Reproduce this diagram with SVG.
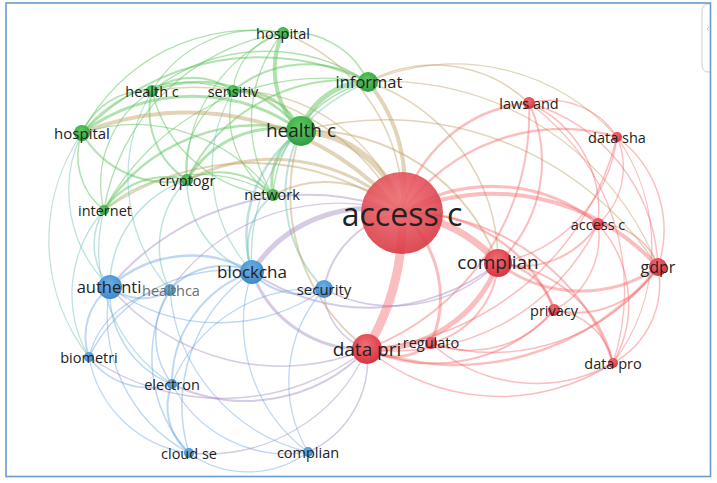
<svg xmlns="http://www.w3.org/2000/svg" width="717" height="483" viewBox="0 0 717 483">
<style>
.e path{fill:none;stroke-width:1.3;stroke-linecap:round}
.g{stroke:rgba(90,195,90,0.48)}
.b{stroke:rgba(100,160,225,0.42)}
.r{stroke:rgba(245,100,100,0.42)}
.gr{stroke:rgba(190,160,100,0.45)}
.br{stroke:rgba(165,140,195,0.45)}
.gb{stroke:rgba(110,190,185,0.45)}
text{font-family:"Open Sans","Noto Sans","DejaVu Sans",sans-serif;fill:#222;text-anchor:middle;dominant-baseline:central}
.nr{fill:url(#gR)}
.ng{fill:url(#gG)}
.nb{fill:url(#gB)}
</style>
<defs>
<radialGradient id="gR" cx="45%" cy="35%" r="65%"><stop offset="0" stop-color="#f06c73"/><stop offset="1" stop-color="#d8343f"/></radialGradient>
<radialGradient id="gG" cx="45%" cy="35%" r="65%"><stop offset="0" stop-color="#5fc95f"/><stop offset="1" stop-color="#2d9f42"/></radialGradient>
<radialGradient id="gB" cx="45%" cy="35%" r="65%"><stop offset="0" stop-color="#6cb0e6"/><stop offset="1" stop-color="#3f88c8"/></radialGradient>
</defs>
<rect x="0" y="0" width="717" height="483" fill="#fff"/>
<path d="M711 4 H708 Q702 4 702 12 V64 Q702 72 708 72 H711" fill="none" stroke="#cfcfcf" stroke-width="1"/>
<path d="M709 27 L707 29 L709 31" fill="none" stroke="#bbb" stroke-width="0.8"/>
<g id="connectors" class="e">
<path class="g" style="stroke-width:4" d="M283 33 A85 85 0 0 0 301 131"/>
<path class="g" d="M283 33 A122 122 0 0 0 152 91"/>
<path class="g" d="M283 33 A65 65 0 0 0 233 91"/>
<path class="g" style="stroke-width:1.6" d="M283 33 A83 83 0 0 1 368 82"/>
<path class="g" d="M283 33 A190 190 0 0 0 82 133"/>
<path class="g" d="M283 33 A150 150 0 0 0 187 180"/>
<path class="g" d="M283 33 A138 138 0 0 0 273 195"/>
<path class="g" d="M283 33 A214 214 0 0 0 104 210"/>
<path class="g" style="stroke-width:2" d="M152 91 A69 69 0 0 1 233 91"/>
<path class="g" style="stroke-width:2.5" d="M152 91 A131 131 0 0 1 301 131"/>
<path class="g" style="stroke-width:1.5" d="M152 91 A70 70 0 0 0 82 133"/>
<path class="g" style="stroke-width:2" d="M152 91 A82 82 0 0 0 187 180"/>
<path class="g" d="M152 91 A136 136 0 0 0 273 195"/>
<path class="g" d="M152 91 A109 109 0 0 0 104 210"/>
<path class="g" style="stroke-width:1.6" d="M152 91 A184 184 0 0 1 368 82"/>
<path class="g" style="stroke-width:3" d="M233 91 A67 67 0 0 1 301 131"/>
<path class="g" style="stroke-width:2" d="M233 91 A115 115 0 0 1 368 82"/>
<path class="g" d="M233 91 A85 85 0 0 0 187 180"/>
<path class="g" d="M233 91 A95 95 0 0 0 273 195"/>
<path class="g" d="M233 91 A133 133 0 0 0 82 133"/>
<path class="g" style="stroke-width:5" d="M368 82 A70 70 0 0 0 301 131"/>
<path class="g" style="stroke-width:2" d="M368 82 A175 175 0 0 0 187 180"/>
<path class="g" d="M368 82 A126 126 0 0 0 273 195"/>
<path class="g" style="stroke-width:2" d="M368 82 A247 247 0 0 0 82 133"/>
<path class="g" style="stroke-width:3" d="M82 133 A186 186 0 0 1 301 131"/>
<path class="g" style="stroke-width:2" d="M82 133 A98 98 0 0 0 187 180"/>
<path class="g" style="stroke-width:1.5" d="M82 133 A68 68 0 0 0 104 210"/>
<path class="g" d="M82 133 A171 171 0 0 1 273 195"/>
<path class="g" style="stroke-width:3" d="M301 131 A105 105 0 0 0 187 180"/>
<path class="g" style="stroke-width:3" d="M301 131 A60 60 0 0 0 273 195"/>
<path class="g" style="stroke-width:2.5" d="M301 131 A180 180 0 0 0 104 210"/>
<path class="g" style="stroke-width:2" d="M187 180 A74 74 0 0 1 273 195"/>
<path class="g" style="stroke-width:2" d="M187 180 A75 75 0 0 0 104 210"/>
<path class="g" d="M273 195 A144 144 0 0 0 104 210"/>
<path class="g" d="M104 210 A249 249 0 0 1 368 82"/>

<path class="b" style="stroke-width:2" d="M110 287 A51 51 0 0 0 170 290"/>
<path class="b" style="stroke-width:2.5" d="M110 287 A121 121 0 0 1 252 272"/>
<path class="b" style="stroke-width:1.5" d="M110 287 A182 182 0 0 0 324 289"/>
<path class="b" style="stroke-width:2" d="M110 287 A62 62 0 0 0 89 357"/>
<path class="b" style="stroke-width:1.5" d="M110 287 A98 98 0 0 0 172 384"/>
<path class="b" d="M110 287 A156 156 0 0 0 189 453"/>
<path class="b" style="stroke-width:2" d="M170 290 A71 71 0 0 1 252 272"/>
<path class="b" d="M170 290 A89 89 0 0 0 89 357"/>
<path class="b" style="stroke-width:1.5" d="M170 290 A80 80 0 0 0 172 384"/>
<path class="b" style="stroke-width:1.5" d="M170 290 A139 139 0 0 0 189 453"/>
<path class="b" d="M170 290 A181 181 0 0 0 308 452"/>
<path class="b" style="stroke-width:2" d="M252 272 A63 63 0 0 0 324 289"/>
<path class="b" style="stroke-width:1.5" d="M252 272 A156 156 0 0 0 89 357"/>
<path class="b" style="stroke-width:2" d="M252 272 A117 117 0 0 0 172 384"/>
<path class="b" style="stroke-width:1.5" d="M252 272 A163 163 0 0 0 189 453"/>
<path class="b" d="M252 272 A160 160 0 0 0 308 452"/>
<path class="b" d="M324 289 A152 152 0 0 0 172 384"/>
<path class="b" d="M324 289 A139 139 0 0 0 308 452"/>
<path class="b" style="stroke-width:1.5" d="M89 357 A74 74 0 0 0 172 384"/>
<path class="b" style="stroke-width:2" d="M172 384 A60 60 0 0 0 189 453"/>
<path class="b" d="M172 384 A129 129 0 0 0 308 452"/>
<path class="b" d="M189 453 A101 101 0 0 0 308 452"/>
<path class="b" d="M89 357 A118 118 0 0 0 189 453"/>

<path class="gb" style="stroke-width:2.5" d="M301 131 A127 127 0 0 0 252 272"/>
<path class="gb" style="stroke-width:1.5" d="M187 180 A112 112 0 0 0 110 287"/>
<path class="gb" style="stroke-width:1.5" d="M187 180 A94 94 0 0 0 170 290"/>
<path class="gb" style="stroke-width:1.5" d="M104 210 A65 65 0 0 0 110 287"/>
<path class="gb" style="stroke-width:2" d="M273 195 A68 68 0 0 0 252 272"/>
<path class="gb" style="stroke-width:2" d="M301 131 A136 136 0 0 0 324 289"/>
<path class="gb" d="M104 210 A159 159 0 0 0 172 384"/>
<path class="gb" d="M82 133 A133 133 0 0 0 110 287"/>
<path class="gb" style="stroke-width:1.5" d="M187 180 A96 96 0 0 0 252 272"/>
<path class="gb" d="M152 91 A170 170 0 0 0 170 290"/>
<path class="gb" style="stroke-width:1.5" d="M368 82 A190 190 0 0 0 252 272"/>
<path class="gb" d="M233 91 A155 155 0 0 0 252 272"/>
<path class="gb" d="M82 133 A190 190 0 0 0 89 357"/>
<path class="gb" d="M104 210 A126 126 0 0 0 89 357"/>

<path class="br" style="stroke-width:5" d="M252 272 A137 137 0 0 1 402 213"/>
<path class="br" style="stroke-width:3" d="M252 272 A117 117 0 0 0 367 349"/>
<path class="br" style="stroke-width:2" d="M324 289 A93 93 0 0 1 402 213"/>
<path class="br" style="stroke-width:1.5" d="M324 289 A63 63 0 0 0 367 349"/>
<path class="br" style="stroke-width:2" d="M110 287 A256 256 0 0 1 402 213"/>
<path class="br" style="stroke-width:1.5" d="M89 357 A236 236 0 0 0 367 349"/>
<path class="br" style="stroke-width:2" d="M172 384 A168 168 0 0 0 367 349"/>
<path class="br" style="stroke-width:2" d="M252 272 A209 209 0 0 0 498 263"/>
<path class="br" style="stroke-width:1.5" d="M324 289 A150 150 0 0 0 498 263"/>
<path class="br" d="M170 290 A207 207 0 0 1 402 213"/>
<path class="br" style="stroke-width:1.5" d="M308 452 A101 101 0 0 0 367 349"/>
<path class="br" style="stroke-width:1.5" d="M110 287 A224 224 0 0 0 367 349"/>
<path class="br" d="M189 453 A175 175 0 0 0 367 349"/>

<path class="gr" style="stroke-width:6" d="M301 131 A111 111 0 0 1 402 213"/>
<path class="gr" style="stroke-width:4" d="M368 82 A160 160 0 0 1 402 213"/>
<path class="gr" style="stroke-width:4" d="M82 133 A280 280 0 0 1 402 213"/>
<path class="gr" style="stroke-width:3" d="M187 180 A185 185 0 0 1 402 213"/>
<path class="gr" style="stroke-width:2" d="M273 195 A111 111 0 0 1 402 213"/>
<path class="gr" style="stroke-width:2" d="M301 131 A194 194 0 0 0 367 349"/>
<path class="gr" style="stroke-width:2" d="M301 131 A201 201 0 0 1 498 263"/>
<path class="gr" style="stroke-width:1.5" d="M368 82 A138 138 0 0 1 529 103"/>
<path class="gr" style="stroke-width:1.5" d="M368 82 A190 190 0 0 1 498 263"/>
<path class="gr" style="stroke-width:1.5" d="M283 33 A184 184 0 0 1 402 213"/>
<path class="gr" style="stroke-width:1.5" d="M152 91 A236 236 0 0 1 402 213"/>
<path class="gr" style="stroke-width:1.5" d="M233 91 A177 177 0 0 1 402 213"/>
<path class="gr" d="M368 82 A292 292 0 0 1 658 267"/>
<path class="gr" style="stroke-width:1.5" d="M301 131 A325 325 0 0 1 658 267"/>
<path class="gr" style="stroke-width:2" d="M104 210 A253 253 0 0 1 402 213"/>
<path class="gr" d="M368 82 A217 217 0 0 1 617 137"/>

<path class="r" style="stroke-width:9" d="M402 213 A250 250 0 0 1 367 349"/>
<path class="r" style="stroke-width:7" d="M402 213 A150 150 0 0 1 498 263"/>
<path class="r" style="stroke-width:4" d="M402 213 A223 223 0 0 1 658 267"/>
<path class="r" style="stroke-width:3" d="M402 213 A167 167 0 0 1 598 224"/>
<path class="r" style="stroke-width:2.5" d="M402 213 A143 143 0 0 1 529 103"/>
<path class="r" style="stroke-width:2.5" d="M402 213 A194 194 0 0 1 617 137"/>
<path class="r" style="stroke-width:2.5" d="M402 213 A153 153 0 0 1 554 310"/>
<path class="r" style="stroke-width:3" d="M402 213 A113 113 0 0 1 431 343"/>
<path class="r" style="stroke-width:2" d="M402 213 A220 220 0 0 1 613 363"/>
<path class="r" style="stroke-width:5" d="M498 263 A133 133 0 0 1 367 349"/>
<path class="r" style="stroke-width:3" d="M498 263 A136 136 0 0 0 658 267"/>
<path class="r" style="stroke-width:2.5" d="M498 263 A62 62 0 0 1 554 310"/>
<path class="r" style="stroke-width:2" d="M498 263 A129 129 0 0 1 613 363"/>
<path class="r" style="stroke-width:2" d="M498 263 A89 89 0 0 1 431 343"/>
<path class="r" style="stroke-width:2" d="M498 263 A139 139 0 0 0 529 103"/>
<path class="r" style="stroke-width:1.5" d="M498 263 A147 147 0 0 0 617 137"/>
<path class="r" style="stroke-width:2" d="M498 263 A91 91 0 0 0 598 224"/>
<path class="r" style="stroke-width:1.5" d="M658 267 A178 178 0 0 0 529 103"/>
<path class="r" style="stroke-width:1.5" d="M658 267 A116 116 0 0 0 617 137"/>
<path class="r" style="stroke-width:2" d="M658 267 A96 96 0 0 1 554 310"/>
<path class="r" style="stroke-width:1.5" d="M658 267 A90 90 0 0 1 613 363"/>
<path class="r" style="stroke-width:2.5" d="M658 267 A257 257 0 0 1 367 349"/>
<path class="r" style="stroke-width:1.5" d="M658 267 A63 63 0 0 0 598 224"/>
<path class="r" style="stroke-width:3" d="M367 349 A54 54 0 0 0 431 343"/>
<path class="r" style="stroke-width:2" d="M367 349 A162 162 0 0 0 554 310"/>
<path class="r" style="stroke-width:1.5" d="M367 349 A209 209 0 0 0 613 363"/>
<path class="r" style="stroke-width:2" d="M367 349 A251 251 0 0 0 529 103"/>
<path class="r" style="stroke-width:1.5" d="M367 349 A279 279 0 0 0 617 137"/>
<path class="r" style="stroke-width:1.5" d="M367 349 A224 224 0 0 0 598 224"/>
<path class="r" style="stroke-width:1.5" d="M431 343 A108 108 0 0 0 554 310"/>
<path class="r" style="stroke-width:1.5" d="M431 343 A156 156 0 0 0 613 363"/>
<path class="r" style="stroke-width:1.5" d="M431 343 A203 203 0 0 0 658 267"/>
<path class="r" style="stroke-width:1.5" d="M529 103 A80 80 0 0 1 617 137"/>
<path class="r" style="stroke-width:1.5" d="M529 103 A118 118 0 0 1 598 224"/>
<path class="r" d="M529 103 A232 232 0 0 1 613 363"/>
<path class="r" d="M617 137 A76 76 0 0 1 598 224"/>
<path class="r" d="M617 137 A192 192 0 0 1 613 363"/>
<path class="r" style="stroke-width:1.5" d="M598 224 A82 82 0 0 1 554 310"/>
<path class="r" style="stroke-width:1.5" d="M598 224 A119 119 0 0 1 613 363"/>
<path class="r" style="stroke-width:1.5" d="M554 310 A67 67 0 0 1 613 363"/>
</g>

<g id="n-access-c"><circle class="nr" cx="402" cy="213" r="41" opacity="0.88"/><text x="402" y="213" style="font-size:32px">access c</text></g>
<g id="n-health-c-big"><circle class="ng" cx="301" cy="131" r="15"/><text x="301" y="130" style="font-size:19px">health c</text></g>
<g id="n-complian-red"><circle class="nr" cx="498" cy="263" r="14"/><text x="498" y="262" style="font-size:19px">complian</text></g>
<g id="n-data-pri"><circle class="nr" cx="367" cy="349" r="15"/><text x="367" y="349" style="font-size:19px">data pri</text></g>
<g id="n-blockcha"><circle class="nb" cx="252" cy="272" r="12"/><text x="252" y="271" style="font-size:17px">blockcha</text></g>
<g id="n-authenti"><circle class="nb" cx="110" cy="287" r="12"/><text x="109" y="286" style="font-size:16.5px">authenti</text></g>
<g id="n-informat"><circle class="ng" cx="368" cy="82" r="10"/><text x="369" y="81" style="font-size:16.5px">informat</text></g>
<g id="n-gdpr"><circle class="nr" cx="658" cy="267" r="9"/><text x="658" y="267" style="font-size:16px">gdpr</text></g>
<g id="n-security"><circle class="nb" cx="324" cy="289" r="9"/><text x="324" y="289" style="font-size:15px">security</text></g>
<g id="n-hospital-top"><circle class="ng" cx="283" cy="33" r="6"/><text x="283" y="33" style="font-size:14.5px">hospital</text></g>
<g id="n-health-c-small"><circle class="ng" cx="152" cy="91" r="6"/><text x="152" y="91" style="font-size:14.5px">health c</text></g>
<g id="n-sensitiv"><circle class="ng" cx="233" cy="91" r="6"/><text x="233" y="91" style="font-size:14.5px">sensitiv</text></g>
<g id="n-hospital-left"><circle class="ng" cx="82" cy="133" r="8"/><text x="82" y="133" style="font-size:15px">hospital</text></g>
<g id="n-cryptogr"><circle class="ng" cx="187" cy="180" r="6"/><text x="187" y="180" style="font-size:14.5px">cryptogr</text></g>
<g id="n-network"><circle class="ng" cx="273" cy="195" r="6"/><text x="272" y="194" style="font-size:14.5px">network</text></g>
<g id="n-internet"><circle class="ng" cx="104" cy="210" r="5"/><text x="105" y="210" style="font-size:14.5px">internet</text></g>
<g id="n-healthca"><circle class="nb" cx="170" cy="290" r="6"/><text x="171" y="290" style="font-size:14.5px;fill:#6e6e6e">healthca</text></g>
<g id="n-biometri"><circle class="nb" cx="89" cy="357" r="5"/><text x="89" y="357" style="font-size:14.5px">biometri</text></g>
<g id="n-electron"><circle class="nb" cx="172" cy="384" r="5"/><text x="172" y="384" style="font-size:14.5px">electron</text></g>
<g id="n-cloud-se"><circle class="nb" cx="189" cy="453" r="5"/><text x="189" y="453" style="font-size:14.5px">cloud se</text></g>
<g id="n-complian-blue"><circle class="nb" cx="308" cy="452" r="5"/><text x="308" y="452" style="font-size:14.5px">complian</text></g>
<g id="n-laws-and"><circle class="nr" cx="529" cy="103" r="6"/><text x="529" y="103" style="font-size:14.5px">laws and</text></g>
<g id="n-data-sha"><circle class="nr" cx="617" cy="137" r="5"/><text x="617" y="137" style="font-size:14.5px">data sha</text></g>
<g id="n-access-c-small"><circle class="nr" cx="598" cy="224" r="6"/><text x="598" y="224" style="font-size:14.5px">access c</text></g>
<g id="n-privacy"><circle class="nr" cx="554" cy="310" r="6"/><text x="554" y="310" style="font-size:14.5px">privacy</text></g>
<g id="n-regulato"><circle class="nr" cx="431" cy="343" r="6"/><text x="431" y="342" style="font-size:14.5px">regulato</text></g>
<g id="n-data-pro"><circle class="nr" cx="613" cy="363" r="5"/><text x="613" y="363" style="font-size:14.5px">data pro</text></g>
<rect x="6" y="3" width="704.5" height="473.5" fill="none" stroke="#6a9ad6" stroke-width="1.6"/>
</svg>
